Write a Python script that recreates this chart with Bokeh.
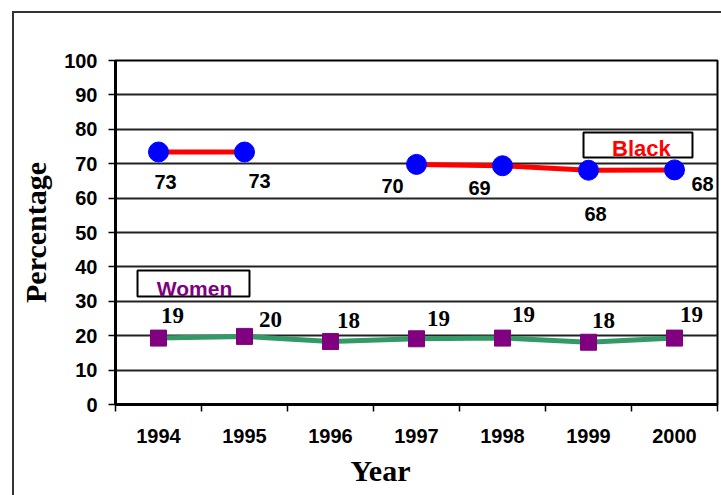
import numpy as np
from bokeh.plotting import figure
from bokeh.models import FixedTicker, ColumnDataSource, Range1d, Title
from bokeh.core.properties import value
from bokeh.embed import file_html
from bokeh.resources import INLINE

# ---- data ----
years = ["1994", "1995", "1996", "1997", "1998", "1999", "2000"]
black_pct = [73.4, 73.4, np.nan, 69.8, 69.4, 68.1, 68.2]
women_pct = [19.3, 19.8, 18.3, 19.1, 19.3, 18.1, 19.3]
y_ticks = [0, 10, 20, 30, 40, 50, 60, 70, 80, 90, 100]

# ---- label offsets (screen px, layout only) ----
black_dx = [7, 15, 0, -24, -23, 7, 28]
black_dy = [30, 29, 0, 22, 22, 44, 14]
women_dx = [14, 26, 18, 22, 21, 15, 17]
women_dy = [-23, -17, -21, -20, -24, -22, -24]

xs = list(range(len(years)))

p = figure(width=721, height=495, x_range=Range1d(-0.5, 6.5), y_range=Range1d(0, 100),
           output_backend="svg", toolbar_location=None,
           min_border_left=115, min_border_top=60, min_border_right=4, min_border_bottom=91)
p.styles = {"box-shadow": "inset 12px 11px 0 0 white, inset 14px 13px 0 0 #333"}
p.background_fill_color = "white"
p.border_fill_color = None
p.outline_line_color = "black"
p.outline_line_width = 2

# axes
xa = p.xaxis[0]
xa.ticker = FixedTicker(ticks=xs, minor_ticks=[i - 0.5 for i in range(len(years) + 1)])
xa.major_label_overrides = {i: y for i, y in enumerate(years)}
xa.major_tick_out = 0
xa.major_tick_in = 0
xa.minor_tick_out = 7
xa.minor_tick_in = 0
xa.minor_tick_line_color = "black"
xa.minor_tick_line_width = 1.5
xa.axis_line_color = "black"
xa.axis_line_width = 3
xa.major_label_standoff = 17
xa.major_label_text_font = "Liberation Sans"
xa.major_label_text_font_style = "bold"
xa.major_label_text_font_size = "20px"
xa.major_label_text_color = "black"

# x title, shifted left of the frame centre as in the original
p.add_layout(Title(text="Year", align="left", offset=235, standoff=12,
                   text_font="Liberation Serif", text_font_style="bold",
                   text_font_size="30px", text_color="black"), "below")

ya = p.yaxis[0]
ya.ticker = FixedTicker(ticks=y_ticks)
ya.major_tick_out = 7
ya.major_tick_in = 0
ya.major_tick_line_color = "black"
ya.major_tick_line_width = 1.5
ya.axis_line_color = "black"
ya.axis_line_width = 3
ya.major_label_standoff = 11
ya.major_label_text_font = "Liberation Sans"
ya.major_label_text_font_style = "bold"
ya.major_label_text_font_size = "20px"
ya.major_label_text_color = "black"
ya.axis_label = "Percentage"
ya.axis_label_text_font = "Liberation Serif"
ya.axis_label_text_font_style = "bold"
ya.axis_label_text_font_size = "30px"
ya.axis_label_text_color = "black"
ya.axis_label_standoff = 9

p.xgrid.visible = False
p.ygrid.ticker = FixedTicker(ticks=y_ticks)
p.ygrid.grid_line_color = "#222222"
p.ygrid.grid_line_width = 1.8

# legend boxes
p.quad(left=[4.942], right=[6.209], bottom=[71.8], top=[79.07],
       fill_color="white", line_color="black", line_width=2)
p.quad(left=[-0.244], right=[1.058], bottom=[31.4], top=[38.95],
       fill_color="white", line_color="black", line_width=2)
p.text(x=[5.616], y=[74.5], text=["Black"], text_align="center", text_baseline="middle",
       text_font=value("Liberation Sans"), text_font_style="bold",
       text_font_size="22px", text_color="#FF0000")
p.text(x=[0.419], y=[33.8], text=["Women"], text_align="center", text_baseline="middle",
       text_font=value("Liberation Sans"), text_font_style="bold",
       text_font_size="21px", text_color="#800080")

# series
p.line(xs, black_pct, line_color="#FF0000", line_width=5)
p.scatter(xs, black_pct, marker="circle", size=20, fill_color="#0000FF", line_color="#0000FF")
p.line(xs, women_pct, line_color="#339966", line_width=5)
p.scatter(xs, women_pct, marker="square", size=16, fill_color="#800080", line_color="#800080")

# data labels
bl = [(x, v, dx, dy) for x, v, dx, dy in zip(xs, black_pct, black_dx, black_dy) if not np.isnan(v)]
bsrc = ColumnDataSource(dict(x=[b[0] for b in bl], y=[b[1] for b in bl],
                             t=[str(int(round(b[1]))) for b in bl],
                             dx=[b[2] for b in bl], dy=[b[3] for b in bl]))
p.text(x="x", y="y", text="t", x_offset="dx", y_offset="dy", source=bsrc,
       text_align="center", text_baseline="middle",
       text_font=value("Liberation Sans"), text_font_style="bold",
       text_font_size="20px", text_color="black")

wsrc = ColumnDataSource(dict(x=xs, y=women_pct, t=[str(int(round(v))) for v in women_pct],
                             dx=women_dx, dy=women_dy))
p.text(x="x", y="y", text="t", x_offset="dx", y_offset="dy", source=wsrc,
       text_align="center", text_baseline="middle",
       text_font=value("Liberation Serif"), text_font_style="bold",
       text_font_size="23px", text_color="black")

open("out.html", "w").write(file_html(p, INLINE))
